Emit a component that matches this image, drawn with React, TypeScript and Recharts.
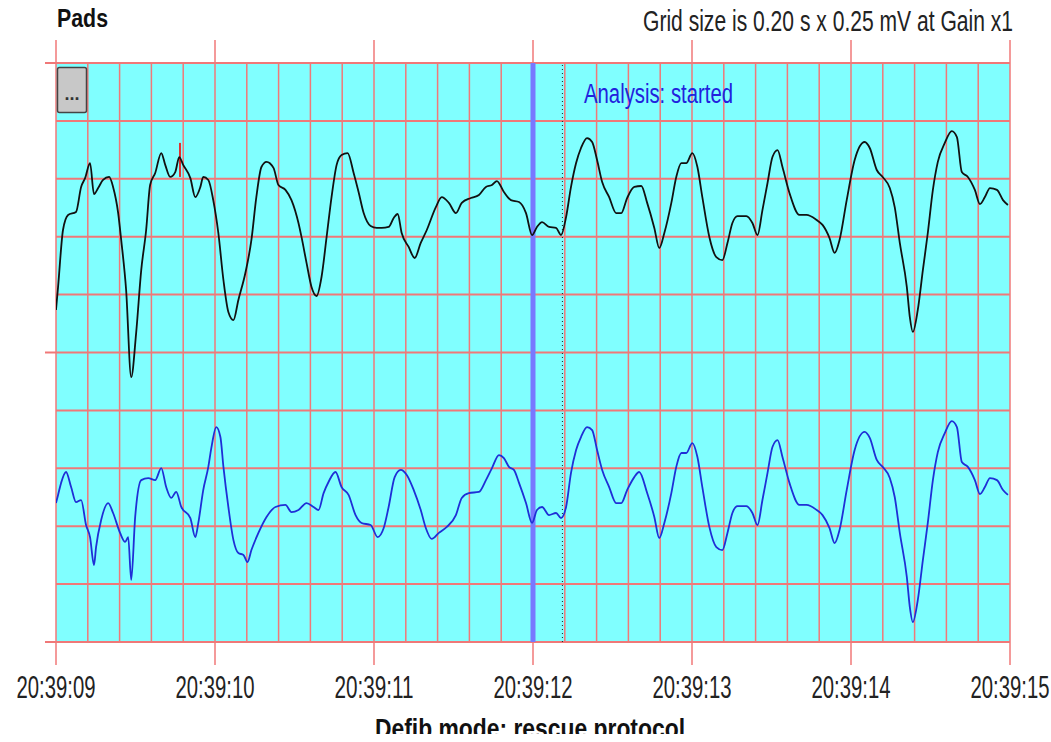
import { CartesianGrid, Line, LineChart, ReferenceLine, XAxis, YAxis } from 'recharts'

// time in seconds after 20:39:09, amplitude in mV (grid 0.20 s x 0.25 mV)
const timeLabels = ['20:39:09', '20:39:10', '20:39:11', '20:39:12', '20:39:13', '20:39:14', '20:39:15']
const secondTicks = [0, 1, 2, 3, 4, 5, 6]
const gridTimes = Array.from({ length: 31 }, (_, i) => Math.round(i * 20) / 100)
const gridLevels = [0, 0.25, 0.5, 0.75, 1, 1.25, 1.5, 1.75, 2, 2.25, 2.5]
const sideTicks = [0, 1.25, 2.5]

const segmentStart = 3
const analysisStart = 3.185
const spikeMark = { t: 0.78, from: 2.155, to: 2.008 }

const padsTrace: [number, number][] = [
  [0.0, 1.434], [0.013, 1.533], [0.044, 1.779], [0.076, 1.844], [0.126, 1.857], [0.158, 1.965],
  [0.183, 2.003], [0.214, 2.068], [0.239, 1.934], [0.265, 1.96], [0.296, 1.995], [0.334, 2.008],
  [0.359, 1.965], [0.391, 1.852], [0.41, 1.736], [0.441, 1.52], [0.473, 1.144], [0.504, 1.334],
  [0.536, 1.606], [0.567, 1.779], [0.592, 1.973], [0.624, 2.025], [0.662, 2.111], [0.687, 2.06],
  [0.718, 2.008], [0.75, 2.029], [0.775, 2.094], [0.8, 2.06], [0.845, 2.003], [0.876, 1.921],
  [0.908, 1.965], [0.926, 2.008], [0.958, 1.995], [0.989, 1.908], [1.021, 1.766], [1.053, 1.563],
  [1.084, 1.425], [1.116, 1.39], [1.147, 1.477], [1.191, 1.593], [1.229, 1.736], [1.26, 1.921],
  [1.292, 2.051], [1.324, 2.073], [1.368, 2.047], [1.399, 1.973], [1.443, 1.952], [1.481, 1.908],
  [1.525, 1.809], [1.544, 1.749], [1.576, 1.636], [1.607, 1.533], [1.639, 1.494], [1.67, 1.576],
  [1.702, 1.749], [1.733, 1.921], [1.765, 2.06], [1.796, 2.103], [1.834, 2.111], [1.872, 2.025],
  [1.903, 1.943], [1.935, 1.852], [1.979, 1.796], [2.017, 1.788], [2.048, 1.788], [2.092, 1.792],
  [2.124, 1.831], [2.149, 1.848], [2.174, 1.766], [2.218, 1.706], [2.256, 1.658], [2.294, 1.723],
  [2.332, 1.779], [2.389, 1.878], [2.426, 1.921], [2.471, 1.896], [2.515, 1.852], [2.552, 1.896],
  [2.609, 1.917], [2.66, 1.93], [2.704, 1.965], [2.742, 1.973], [2.773, 1.99], [2.817, 1.943],
  [2.861, 1.908], [2.912, 1.9], [2.956, 1.852], [2.994, 1.757], [3.025, 1.792], [3.057, 1.813],
  [3.101, 1.792], [3.145, 1.788], [3.176, 1.757], [3.208, 1.835], [3.239, 1.965], [3.271, 2.068],
  [3.302, 2.133], [3.34, 2.176], [3.372, 2.159], [3.403, 2.081], [3.435, 1.986], [3.479, 1.921],
  [3.523, 1.852], [3.555, 1.852], [3.592, 1.917], [3.637, 1.965], [3.681, 1.969], [3.718, 1.896],
  [3.763, 1.788], [3.794, 1.701], [3.826, 1.766], [3.87, 1.896], [3.901, 2.008], [3.933, 2.068],
  [3.964, 2.068], [4.002, 2.111], [4.034, 2.051], [4.065, 1.921], [4.109, 1.749], [4.153, 1.662],
  [4.191, 1.649], [4.223, 1.723], [4.254, 1.809], [4.286, 1.839], [4.342, 1.839], [4.38, 1.809],
  [4.412, 1.757], [4.443, 1.865], [4.475, 1.982], [4.506, 2.094], [4.538, 2.124], [4.569, 2.051],
  [4.613, 1.939], [4.676, 1.844], [4.72, 1.844], [4.784, 1.822], [4.821, 1.801], [4.865, 1.744],
  [4.897, 1.68], [4.928, 1.736], [4.973, 1.908], [5.023, 2.081], [5.086, 2.159], [5.118, 2.133],
  [5.162, 2.038], [5.199, 2.008], [5.244, 1.96], [5.275, 1.878], [5.307, 1.723], [5.351, 1.533],
  [5.37, 1.403], [5.389, 1.339], [5.42, 1.434], [5.452, 1.606], [5.483, 1.766], [5.515, 1.952],
  [5.546, 2.073], [5.59, 2.155], [5.634, 2.206], [5.666, 2.18], [5.697, 2.029], [5.735, 2.008],
  [5.779, 1.952], [5.811, 1.891], [5.842, 1.921], [5.874, 1.96], [5.918, 1.952], [5.956, 1.908],
  [5.987, 1.887],
]

const filteredTrace: [number, number][] = [
  [0.0, 0.6], [0.013, 0.635], [0.032, 0.687], [0.063, 0.734], [0.095, 0.669], [0.126, 0.604],
  [0.158, 0.613], [0.189, 0.505], [0.214, 0.453], [0.239, 0.332], [0.252, 0.41], [0.284, 0.527],
  [0.328, 0.6], [0.359, 0.557], [0.403, 0.471], [0.435, 0.432], [0.454, 0.453], [0.473, 0.268],
  [0.498, 0.54], [0.536, 0.699], [0.58, 0.708], [0.624, 0.699], [0.662, 0.751], [0.693, 0.669],
  [0.725, 0.622], [0.756, 0.648], [0.788, 0.583], [0.845, 0.535], [0.876, 0.453], [0.895, 0.514],
  [0.926, 0.656], [0.958, 0.756], [0.977, 0.838], [1.008, 0.928], [1.034, 0.885], [1.053, 0.756],
  [1.084, 0.583], [1.116, 0.44], [1.147, 0.384], [1.179, 0.376], [1.204, 0.345], [1.229, 0.397],
  [1.273, 0.471], [1.324, 0.54], [1.38, 0.583], [1.443, 0.592], [1.481, 0.561], [1.525, 0.57],
  [1.576, 0.6], [1.62, 0.583], [1.651, 0.57], [1.683, 0.643], [1.714, 0.691], [1.758, 0.734],
  [1.796, 0.669], [1.84, 0.635], [1.884, 0.548], [1.922, 0.514], [1.979, 0.505], [2.023, 0.453],
  [2.061, 0.492], [2.092, 0.583], [2.13, 0.712], [2.168, 0.743], [2.206, 0.721], [2.25, 0.656],
  [2.294, 0.57], [2.326, 0.492], [2.363, 0.445], [2.408, 0.471], [2.458, 0.497], [2.515, 0.548],
  [2.552, 0.622], [2.597, 0.643], [2.66, 0.648], [2.704, 0.699], [2.742, 0.751], [2.786, 0.807],
  [2.817, 0.794], [2.849, 0.756], [2.88, 0.743], [2.912, 0.687], [2.956, 0.6], [2.994, 0.514],
  [3.025, 0.57], [3.057, 0.583], [3.101, 0.548], [3.145, 0.557], [3.176, 0.535], [3.208, 0.583],
  [3.239, 0.73], [3.271, 0.829], [3.302, 0.885], [3.34, 0.928], [3.372, 0.915], [3.403, 0.829],
  [3.435, 0.743], [3.479, 0.669], [3.523, 0.6], [3.555, 0.6], [3.592, 0.656], [3.637, 0.712],
  [3.668, 0.734], [3.718, 0.643], [3.763, 0.54], [3.794, 0.449], [3.826, 0.514], [3.87, 0.643],
  [3.901, 0.756], [3.933, 0.816], [3.964, 0.816], [4.002, 0.859], [4.034, 0.799], [4.065, 0.669],
  [4.109, 0.497], [4.153, 0.41], [4.191, 0.397], [4.223, 0.471], [4.254, 0.557], [4.286, 0.587],
  [4.342, 0.587], [4.38, 0.557], [4.412, 0.505], [4.443, 0.613], [4.475, 0.73], [4.506, 0.842],
  [4.538, 0.872], [4.569, 0.799], [4.613, 0.687], [4.676, 0.592], [4.72, 0.592], [4.784, 0.57],
  [4.821, 0.548], [4.865, 0.492], [4.897, 0.427], [4.928, 0.484], [4.973, 0.656], [5.023, 0.829],
  [5.086, 0.907], [5.118, 0.881], [5.162, 0.786], [5.199, 0.756], [5.244, 0.708], [5.275, 0.626],
  [5.307, 0.471], [5.351, 0.281], [5.37, 0.151], [5.389, 0.086], [5.42, 0.181], [5.452, 0.354],
  [5.483, 0.514], [5.515, 0.699], [5.546, 0.82], [5.59, 0.902], [5.634, 0.954], [5.666, 0.928],
  [5.697, 0.777], [5.735, 0.756], [5.779, 0.699], [5.811, 0.639], [5.842, 0.669], [5.874, 0.708],
  [5.918, 0.699], [5.956, 0.656], [5.987, 0.635],
]

const toPoints = (trace: [number, number][]) => trace.map(([t, v]) => ({ t, v }))
const padsData = toPoints(padsTrace)
const filteredData = toPoints(filteredTrace)

const GRID = '#f07878'
const FONT = '"Liberation Sans", Arial, sans-serif'

function TimeTick(props: any) {
  const { x, y, payload } = props
  const label = timeLabels[Math.round(payload.value)]
  return (
    <text
      x={x}
      y={y + 31}
      textAnchor="middle"
      fontFamily={FONT}
      fontSize={32}
      fill="#222"
      textLength={79}
      lengthAdjust="spacingAndGlyphs"
    >
      {label}
    </text>
  )
}

const NoLabel = () => null

export default function App() {
  return (
    <div style={{ position: 'absolute', left: 0, top: 0, width: 1051, height: 742, background: '#fff' }}>
      <LineChart width={1051} height={742} margin={{ top: 0, right: 41, bottom: 0, left: 0 }}>
        <CartesianGrid
          fill="#80ffff"
          fillOpacity={1}
          stroke={GRID}
          strokeWidth={1.5}
          horizontal={false}
          verticalValues={gridTimes}
        />
        <XAxis
          dataKey="t"
          type="number"
          domain={[0, 6]}
          allowDataOverflow
          ticks={secondTicks}
          height={100}
          tickSize={23}
          axisLine={false}
          tickLine={{ stroke: GRID, strokeWidth: 1.5 }}
          tick={<TimeTick />}
        />
        <XAxis
          xAxisId="top"
          orientation="top"
          dataKey="t"
          type="number"
          domain={[0, 6]}
          allowDataOverflow
          ticks={secondTicks}
          height={63}
          tickSize={23}
          axisLine={false}
          tickLine={{ stroke: GRID, strokeWidth: 1.5 }}
          tick={NoLabel}
        />
        <YAxis
          type="number"
          domain={[0, 2.5]}
          allowDataOverflow
          ticks={sideTicks}
          width={56}
          tickSize={11}
          axisLine={false}
          tickLine={{ stroke: GRID, strokeWidth: 2 }}
          tick={NoLabel}
        />
        {gridLevels.map((level) => (
          <ReferenceLine key={level} y={level} stroke={GRID} strokeWidth={2} />
        ))}
        <ReferenceLine x={segmentStart} stroke="#7878ff" strokeWidth={5} />
        <ReferenceLine x={analysisStart} stroke="#222" strokeWidth={1} strokeDasharray="1 3" />
        <ReferenceLine
          segment={[
            { x: spikeMark.t, y: spikeMark.from },
            { x: spikeMark.t, y: spikeMark.to },
          ]}
          stroke="#e03030"
          strokeWidth={2}
        />
        <Line
          xAxisId="top"
          data={padsData}
          dataKey="v"
          type="monotone"
          stroke="#111"
          strokeWidth={1.8}
          dot={false}
          isAnimationActive={false}
        />
        <Line
          data={filteredData}
          dataKey="v"
          type="monotone"
          stroke="#1f2fd6"
          strokeWidth={1.8}
          dot={false}
          isAnimationActive={false}
        />
        <text x={57} y={27} fontFamily={FONT} fontWeight="bold" fontSize={26} fill="#111" textLength={51} lengthAdjust="spacingAndGlyphs">
          Pads
        </text>
        <text x={1013} y={31} textAnchor="end" fontFamily={FONT} fontSize={30} fill="#222" textLength={370} lengthAdjust="spacingAndGlyphs">
          Grid size is 0.20 s x 0.25 mV at Gain x1
        </text>
        <text x={584} y={103} fontFamily={FONT} fontSize={27} fill="#2222dd" textLength={149} lengthAdjust="spacingAndGlyphs">
          Analysis: started
        </text>
        <rect x={57.5} y={67.5} width={29} height={45} rx={2} fill="#c8c8c8" stroke="#444" strokeWidth={1.5} />
        <text x={72} y={100} textAnchor="middle" fontFamily={FONT} fontWeight="bold" fontSize={18} fill="#333">
          ...
        </text>
        <svg x={0} y={700} width={1051} height={34} overflow="hidden">
          <text x={530} y={37.5} textAnchor="middle" fontFamily={FONT} fontWeight="bold" fontSize={28} fill="#111" textLength={310} lengthAdjust="spacingAndGlyphs">
            Defib mode: rescue protocol
          </text>
        </svg>
      </LineChart>
    </div>
  )
}
